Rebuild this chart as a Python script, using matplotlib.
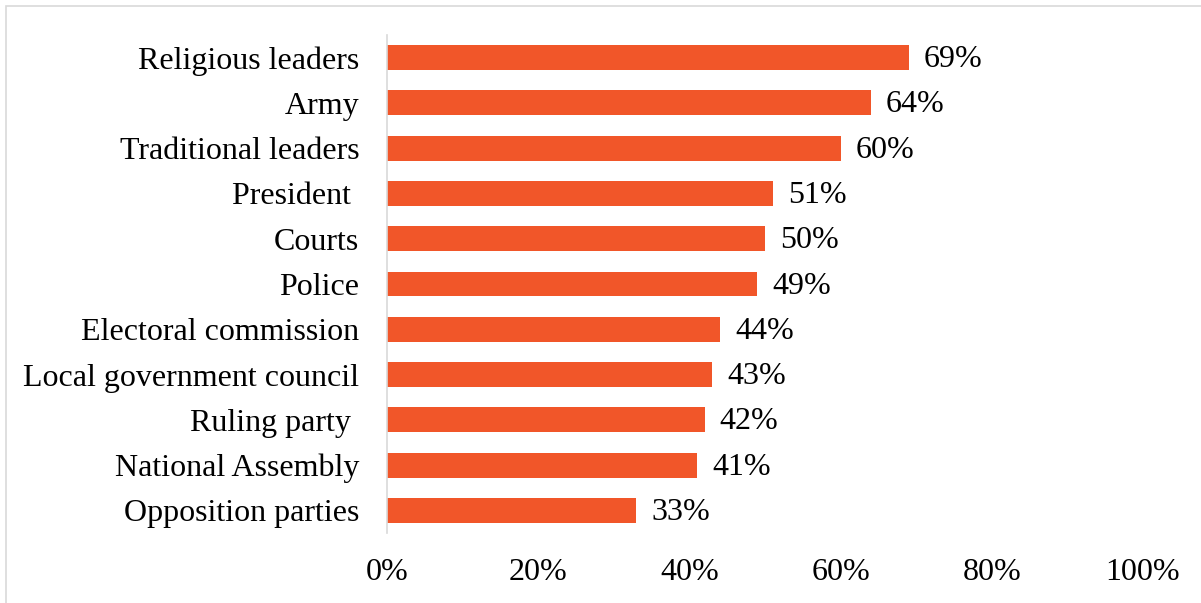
import matplotlib.pyplot as plt
from matplotlib.patches import Rectangle
from matplotlib.ticker import PercentFormatter

# trust levels by institution, top to bottom
institutions = ["Religious leaders", "Army", "Traditional leaders", "President ",
                "Courts", "Police", "Electoral commission", "Local government council",
                "Ruling party ", "National Assembly", "Opposition parties"]
trust_pct = [69, 64, 60, 51, 50, 49, 44, 43, 42, 41, 33]
x_ticks = [0, 20, 40, 60, 80, 100]

plt.rcParams['font.family'] = ['Liberation Serif', 'DejaVu Serif']
FS = 23

fig = plt.figure(figsize=(12.01, 6.03), dpi=100)
ax = fig.add_axes([387/1201, 1 - 533/603, (1143 - 387)/1201, (533 - 35)/603])

ypos = list(range(len(institutions)))
ax.barh(ypos, trust_pct, height=0.55, color='#F15629')
for y, v in zip(ypos, trust_pct):
    ax.annotate(f"{v}%", (v, y), xytext=(11, -1.5), textcoords='offset points',
                va='center', ha='left', fontsize=FS)

ax.set_ylim(len(institutions) - 0.5, -0.5)
ax.set_xlim(0, 100)
ax.set_yticks(ypos)
ax.set_yticklabels(institutions, fontsize=FS)
ax.set_xticks(x_ticks)
ax.xaxis.set_major_formatter(PercentFormatter(decimals=0))
ax.tick_params(axis='x', length=0, labelsize=FS, pad=18)
ax.tick_params(axis='y', length=0, pad=20)

for side in ['top', 'right', 'bottom']:
    ax.spines[side].set_visible(False)
ax.spines['left'].set_color('#D9D9D9')
ax.spines['left'].set_linewidth(1.2)

# light frame around the chart area
fig.patches.append(Rectangle((6/1201, -0.1), 1.2, 1 - 6/603 + 0.1,
                             transform=fig.transFigure, fill=False,
                             edgecolor='#D9D9D9', linewidth=1.2))

fig.savefig("out.png", dpi=100)
